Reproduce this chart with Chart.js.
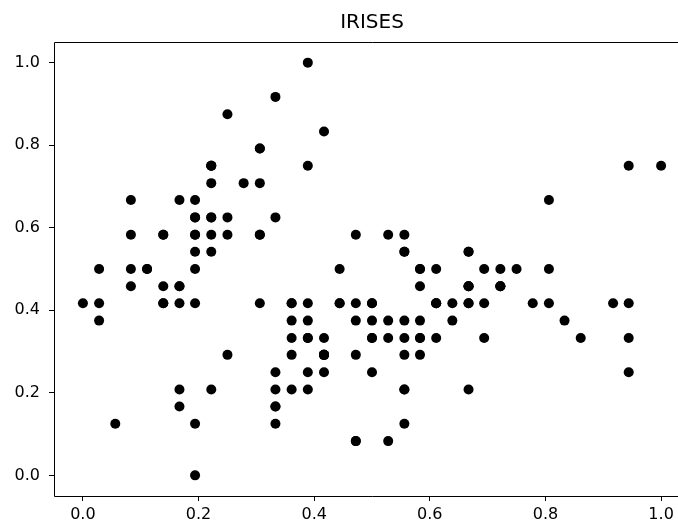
<!DOCTYPE html>
<html>
<head>
<meta charset="utf-8">
<script src="https://cdn.jsdelivr.net/npm/chart.js@4/dist/chart.umd.min.js"></script>
<style>
  html, body { margin: 0; padding: 0; background: #fff; overflow: hidden; }
  #wrap { width: 678px; height: 525px; overflow: hidden; position: relative; }
  #chart { position: absolute; left: 0; top: 0; }
</style>
</head>
<body>
<div id="wrap"><canvas id="chart" width="700" height="525"></canvas></div>
<script>
// iris: sepal length (x) and sepal width (y), min-max scaled
const sepalLength = [
  0.222, 0.167, 0.111, 0.083, 0.194, 0.306, 0.083, 0.194, 0.028, 0.167,
  0.306, 0.139, 0.139, 0.000, 0.417, 0.389, 0.306, 0.222, 0.389, 0.222,
  0.306, 0.222, 0.083, 0.222, 0.139, 0.194, 0.194, 0.250, 0.250, 0.111,
  0.139, 0.306, 0.250, 0.333, 0.167, 0.194, 0.333, 0.167, 0.028, 0.222,
  0.194, 0.056, 0.028, 0.194, 0.222, 0.139, 0.222, 0.083, 0.278, 0.194,
  0.750, 0.583, 0.722, 0.333, 0.611, 0.389, 0.556, 0.167, 0.639, 0.250,
  0.194, 0.444, 0.472, 0.500, 0.361, 0.667, 0.361, 0.417, 0.528, 0.361,
  0.444, 0.500, 0.556, 0.500, 0.583, 0.639, 0.694, 0.667, 0.472, 0.389,
  0.333, 0.333, 0.417, 0.472, 0.306, 0.472, 0.667, 0.556, 0.361, 0.333,
  0.333, 0.500, 0.417, 0.194, 0.361, 0.389, 0.389, 0.528, 0.222, 0.389,
  0.556, 0.417, 0.778, 0.556, 0.611, 0.917, 0.167, 0.833, 0.667, 0.806,
  0.611, 0.583, 0.694, 0.389, 0.417, 0.583, 0.611, 0.944, 0.944, 0.472,
  0.722, 0.361, 0.944, 0.556, 0.667, 0.806, 0.528, 0.500, 0.583, 0.806,
  0.861, 1.000, 0.583, 0.556, 0.500, 0.944, 0.556, 0.583, 0.472, 0.722,
  0.667, 0.722, 0.417, 0.694, 0.667, 0.667, 0.556, 0.611, 0.528, 0.444
];
const sepalWidth = [
  0.625, 0.417, 0.500, 0.458, 0.667, 0.792, 0.583, 0.583, 0.375, 0.458,
  0.708, 0.583, 0.417, 0.417, 0.833, 1.000, 0.792, 0.625, 0.750, 0.750,
  0.583, 0.708, 0.667, 0.542, 0.583, 0.417, 0.583, 0.625, 0.583, 0.500,
  0.458, 0.583, 0.875, 0.917, 0.458, 0.500, 0.625, 0.667, 0.417, 0.583,
  0.625, 0.125, 0.500, 0.625, 0.750, 0.417, 0.750, 0.500, 0.708, 0.542,
  0.500, 0.500, 0.458, 0.125, 0.333, 0.333, 0.542, 0.167, 0.375, 0.292,
  0.000, 0.417, 0.083, 0.375, 0.375, 0.458, 0.417, 0.292, 0.083, 0.208,
  0.500, 0.333, 0.208, 0.333, 0.375, 0.417, 0.333, 0.417, 0.375, 0.250,
  0.167, 0.167, 0.292, 0.292, 0.417, 0.583, 0.458, 0.125, 0.417, 0.208,
  0.250, 0.417, 0.250, 0.125, 0.292, 0.417, 0.375, 0.375, 0.208, 0.333,
  0.542, 0.292, 0.417, 0.375, 0.417, 0.417, 0.208, 0.375, 0.208, 0.667,
  0.500, 0.292, 0.417, 0.208, 0.333, 0.500, 0.417, 0.750, 0.250, 0.083,
  0.500, 0.333, 0.333, 0.292, 0.542, 0.500, 0.333, 0.417, 0.333, 0.417,
  0.333, 0.750, 0.333, 0.333, 0.250, 0.417, 0.583, 0.458, 0.417, 0.458,
  0.458, 0.458, 0.292, 0.500, 0.542, 0.417, 0.208, 0.417, 0.583, 0.417
];
const xTicks = [0.0, 0.2, 0.4, 0.6, 0.8, 1.0];
const yTicks = [0.0, 0.2, 0.4, 0.6, 0.8, 1.0];

const points = sepalLength.map((x, i) => ({ x: x, y: sepalWidth[i] }));

// left, top and bottom spines (the right one falls outside the picture)
const frame = {
  id: 'frame',
  afterDraw(chart) {
    const a = chart.chartArea;
    const ctx = chart.ctx;
    const l = Math.round(a.left) + 0.5, t = Math.round(a.top) + 0.5, b = Math.round(a.bottom) + 0.5;
    ctx.save();
    ctx.strokeStyle = '#000';
    ctx.lineWidth = 1;
    ctx.beginPath();
    ctx.moveTo(a.right, t);
    ctx.lineTo(l, t);
    ctx.lineTo(l, b);
    ctx.lineTo(a.right, b);
    ctx.stroke();
    ctx.restore();
  }
};

const tickFont = { family: 'DejaVu Sans', size: 16 };

new Chart(document.getElementById('chart').getContext('2d'), {
  type: 'scatter',
  data: {
    datasets: [{
      data: points,
      backgroundColor: '#000',
      borderWidth: 0,
      pointRadius: 5,
      pointHoverRadius: 5
    }]
  },
  options: {
    responsive: false,
    animation: false,
    layout: { padding: { left: 0, right: 10, top: 0, bottom: 0 } },
    plugins: {
      legend: { display: false },
      tooltip: { enabled: false },
      title: {
        display: true,
        text: 'IRISES',
        fullSize: false,
        color: '#000',
        font: { family: 'DejaVu Sans', size: 20, weight: 'normal' },
        padding: { top: 11, bottom: 7 }
      }
    },
    scales: {
      x: {
        type: 'linear',
        min: -0.05,
        max: 1.05,
        afterBuildTicks: s => { s.ticks = xTicks.map(v => ({ value: v })); },
        afterFit: s => { s.height = 29; },
        ticks: { color: '#000', font: tickFont, padding: 4, maxRotation: 0,
                 callback: v => v.toFixed(1) },
        grid: { drawOnChartArea: false, drawTicks: true, tickLength: 5, color: '#000' },
        border: { display: false }
      },
      y: {
        type: 'linear',
        min: -0.05,
        max: 1.05,
        afterBuildTicks: s => { s.ticks = yTicks.map(v => ({ value: v })); },
        afterFit: s => { s.width = 54; },
        ticks: { color: '#000', font: tickFont, padding: 9,
                 callback: v => v.toFixed(1) },
        grid: { drawOnChartArea: false, drawTicks: true, tickLength: 5, color: '#000' },
        border: { display: false }
      }
    }
  },
  plugins: [frame]
});
</script>
</body>
</html>
